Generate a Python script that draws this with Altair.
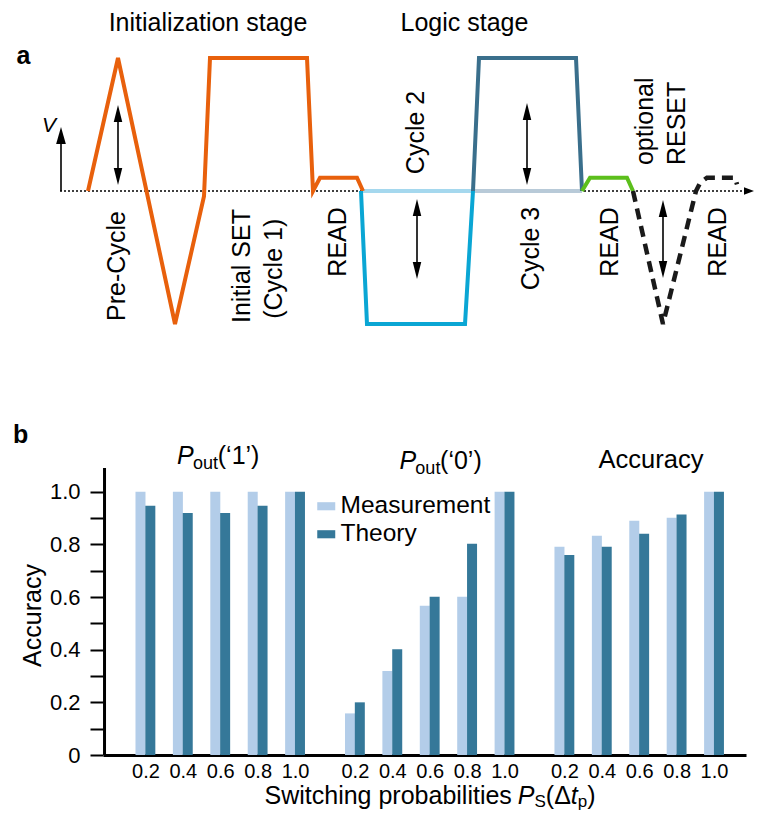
import json
import altair as alt
import pandas as pd

# ---------------- Panel b data ----------------
ps_labels = ["0.2", "0.4", "0.6", "0.8", "1.0"]
series_names = ["Measurement", "Theory"]
series_colors = ["#b3cde9", "#357899"]

meas_p1 = [1.0, 1.0, 1.0, 1.0, 1.0]
theory_p1 = [0.947, 0.919, 0.919, 0.947, 1.0]
meas_p0 = [0.158, 0.319, 0.567, 0.601, 1.0]
theory_p0 = [0.200, 0.402, 0.601, 0.802, 1.0]
meas_acc = [0.791, 0.833, 0.890, 0.901, 1.0]
theory_acc = [0.760, 0.791, 0.840, 0.913, 1.0]

# ---------------- Panel a data (time t, voltage V; arbitrary units) ----------------
orange_t = [2.8, 5.8, 11.5, 14.4, 15.0, 24.7, 25.3, 26.0, 29.7, 30.3]
orange_v = [0.0, 1.0, -1.0, -0.04, 1.0, 1.0, 0.0, 0.1, 0.1, 0.0]
cyan_t = [30.1, 30.7, 40.5, 41.3]
cyan_v = [0.0, -1.0, -1.0, 0.0]
cyan_base_t = [30.1, 41.3]
cyan_base_v = [0.0, 0.0]
teal_t = [41.3, 41.9, 51.6, 52.2]
teal_v = [0.0, 1.0, 1.0, 0.0]
grey_base_t = [41.3, 52.2]
grey_base_v = [0.0, 0.0]
green_t = [52.2, 53.0, 56.7, 57.3]
green_v = [0.0, 0.1, 0.1, 0.0]
reset_t = [57.3, 60.3, 63.6, 64.0, 64.7, 67.5, 67.7]
reset_v = [0.0, -1.0, 0.0, 0.06, 0.1, 0.1, 0.05]
axis_t = [0.0, 68.6]
axis_v = [0.0, 0.0]

# double arrows: (t, V top, V bottom)
darrow_t = [5.8, 35.7, 46.7, 60.3]
darrow_top = [0.647, -0.06, 0.662, -0.068]
darrow_bot = [0.045, -0.662, 0.045, -0.654]

rot_labels = ["Pre-Cycle", "Initial SET", "(Cycle 1)", "READ", "Cycle 2", "Cycle 3", "READ", "READ"]
rot_t = [5.7, 18.2, 21.4, 27.75, 35.6, 47.1, 55.0, 65.8]
rot_v = [-0.564, -0.564, -0.585, -0.383, 0.44, -0.432, -0.383, -0.383]
reset_labels = ["optional", "RESET"]
reset_lab_t = [58.5, 61.7]
reset_lab_v = [0.195, 0.195]
stage_labels = ["Initialization stage", "Logic stage"]
stage_t = [14.8, 40.45]
stage_v = [1.203, 1.203]

FONT = "Liberation Sans"
XA = [4.3, 68.6]
YA = [-4.2406, 1.3759]
XB = [-1.0, 15.9211]
YB = [0.0, 2.8371]
GROUP_STEP = 5.6
HALF_BAR = 5.0 / 38.0
HEAD = 0.064


def xa(f):
    return alt.X(f"{f}:Q", scale=alt.Scale(domain=XA, nice=False, zero=False), axis=None)


def ya(f):
    return alt.Y(f"{f}:Q", scale=alt.Scale(domain=YA, nice=False, zero=False), axis=None)


def xb(f):
    return alt.X(f"{f}:Q", scale=alt.Scale(domain=XB, nice=False, zero=False), axis=None)


def yb(f):
    return alt.Y(f"{f}:Q", scale=alt.Scale(domain=YB, nice=False, zero=False), axis=None)


layers = []


def wave(ts, vs, color, width=4.0, dash=None):
    df = pd.DataFrame({"t": ts, "v": vs, "o": list(range(len(ts)))})
    kw = dict(color=color, strokeWidth=width, clip=False)
    if dash:
        kw["strokeDash"] = dash
    return alt.Chart(df).mark_line(**kw).encode(x=xa("t"), y=ya("v"), order="o:Q")


layers.append(wave(axis_t, axis_v, "black", 1.3, [2, 2]))
layers.append(wave(cyan_base_t, cyan_base_v, "#a5d8ee"))
layers.append(wave(grey_base_t, grey_base_v, "#b8cad8"))
layers.append(wave(orange_t, orange_v, "#e8600c"))
layers.append(wave(cyan_t, cyan_v, "#0aa6d4"))
layers.append(wave(teal_t, teal_v, "#3a6f8c"))
layers.append(wave(green_t, green_v, "#5cbf1c"))
layers.append(wave(reset_t, reset_v, "#1a1a1a", 4.5, [11, 7]))

# time axis arrowhead
layers.append(
    alt.Chart(pd.DataFrame({"t": [axis_t[-1] + 0.3], "v": [0.0]}))
    .mark_point(shape="M1,0L-1,-0.75L-1,0.75Z", size=100, filled=True, color="black", opacity=1, strokeWidth=0)
    .encode(x=xa("t"), y=ya("v"))
)
# V axis arrow
layers.append(
    alt.Chart(pd.DataFrame({"t": [0.1], "v": [0.0], "v2": [0.45]}))
    .mark_rule(color="black", strokeWidth=1.6)
    .encode(x=xa("t"), y=ya("v"), y2="v2:Q")
)
layers.append(
    alt.Chart(pd.DataFrame({"t": [0.1], "v": [0.417]}))
    .mark_point(shape="M0,-1L-0.57,1L0.57,1Z", size=289, filled=True, color="black", opacity=1, strokeWidth=0)
    .encode(x=xa("t"), y=ya("v"))
)
layers.append(
    alt.Chart(pd.DataFrame({"t": [-1.1], "v": [0.49], "s": ["V"]}))
    .mark_text(font=FONT, fontSize=21, fontStyle="italic", align="center", baseline="middle", color="black")
    .encode(x=xa("t"), y=ya("v"), text="s:N")
)

# double arrows
da = pd.DataFrame({"t": darrow_t, "top": darrow_top, "bot": darrow_bot})
da["top_head"] = da["top"] - HEAD
da["bot_head"] = da["bot"] + HEAD
layers.append(
    alt.Chart(da).mark_rule(color="black", strokeWidth=1.6).encode(x=xa("t"), y=ya("top_head"), y2="bot_head:Q")
)
layers.append(
    alt.Chart(da)
    .mark_point(shape="M0,-1L-0.5,1L0.5,1Z", size=289, filled=True, color="black", opacity=1, strokeWidth=0)
    .encode(x=xa("t"), y=ya("top_head"))
)
layers.append(
    alt.Chart(da)
    .mark_point(shape="M0,1L-0.5,-1L0.5,-1Z", size=289, filled=True, color="black", opacity=1, strokeWidth=0)
    .encode(x=xa("t"), y=ya("bot_head"))
)

# rotated labels
layers.append(
    alt.Chart(pd.DataFrame({"s": rot_labels, "t": rot_t, "v": rot_v}))
    .mark_text(font=FONT, fontSize=25, angle=270, align="center", baseline="middle", color="black")
    .encode(x=xa("t"), y=ya("v"), text="s:N")
)
layers.append(
    alt.Chart(pd.DataFrame({"s": reset_labels, "t": reset_lab_t, "v": reset_lab_v}))
    .mark_text(font=FONT, fontSize=25, angle=270, align="left", baseline="middle", color="black")
    .encode(x=xa("t"), y=ya("v"), text="s:N")
)
layers.append(
    alt.Chart(pd.DataFrame({"s": stage_labels, "t": stage_t, "v": stage_v}))
    .mark_text(font=FONT, fontSize=25, align="center", baseline="alphabetic", color="black")
    .encode(x=xa("t"), y=ya("v"), text="s:N")
)
layers.append(
    alt.Chart(pd.DataFrame({"s": ["a"], "t": [-3.65], "v": [1.015]}))
    .mark_text(font=FONT, fontSize=25, fontWeight="bold", align="center", baseline="middle", color="black")
    .encode(x=xa("t"), y=ya("v"), text="s:N")
)

# ---------------- Panel b ----------------
groups = [(meas_p1, theory_p1), (meas_p0, theory_p0), (meas_acc, theory_acc)]
rows = []
for g, (m, th) in enumerate(groups):
    for i in range(len(ps_labels)):
        rows.append({"series": "Measurement", "slot": g * GROUP_STEP + i, "val": m[i], "k": 0})
        rows.append({"series": "Theory", "slot": g * GROUP_STEP + i, "val": th[i], "k": 1})
bars = pd.DataFrame(rows)
bars["pos"] = bars["slot"] + (bars["k"] * 2 - 1) * HALF_BAR
slot_values = sorted(set(bars["slot"].round(4).tolist()))

x_label_expr = (
    f"{json.dumps(ps_labels)}[round(datum.value - floor((datum.value + 0.5) / {GROUP_STEP}) * {GROUP_STEP})]"
)

bar_layer = (
    alt.Chart(bars)
    .mark_bar(size=10)
    .encode(
        x=alt.X(
            "pos:Q",
            scale=alt.Scale(domain=XB, nice=False, zero=False),
            axis=alt.Axis(
                orient="bottom",
                values=slot_values,
                labelExpr=x_label_expr,
                ticks=False,
                grid=False,
                domainWidth=3,
                domainColor="black",
                labelFont=FONT,
                labelFontSize=20,
                labelColor="black",
                labelPadding=6,
                title=None,
            ),
        ),
        y=alt.Y(
            "val:Q",
            scale=alt.Scale(domain=YB, nice=False, zero=False),
            axis=alt.Axis(
                orient="left",
                values=[round(k * 0.1, 1) for k in range(11)],
                labelExpr="datum.value == 0 ? '0' : (round(datum.value * 10) % 2 == 0 ? format(datum.value, '.1f') : '')",
                domain=False,
                grid=False,
                tickSize=13,
                tickWidth=2,
                tickColor="black",
                labelFont=FONT,
                labelFontSize=22,
                labelColor="black",
                labelPadding=10,
                title="Accuracy",
                titleFont=FONT,
                titleFontSize=25,
                titleFontWeight="normal",
                titleColor="black",
                titleAngle=270,
                titleAlign="center",
                titleBaseline="middle",
                titleX=-71,
                titleY=607,
            ),
        ),
        color=alt.Color(
            "series:N",
            scale=alt.Scale(domain=series_names, range=series_colors),
            legend=alt.Legend(
                orient="none",
                legendX=211,
                legendY=486,
                title=None,
                padding=0,
                labelFont=FONT,
                labelFontSize=24.5,
                labelColor="black",
                labelOffset=2,
                rowPadding=3,
                symbolType="M-1,-0.45H1V0.45H-1Z",
                symbolSize=324,
                symbolStrokeWidth=0,
                symbolOpacity=1,
            ),
        ),
    )
)
layers.append(bar_layer)

# y axis line (stops at top of the value range)
layers.append(
    alt.Chart(pd.DataFrame({"p": [-0.96], "v": [0.0], "v2": [1.09]}))
    .mark_rule(color="black", strokeWidth=3)
    .encode(x=xb("p"), y=yb("v"), y2="v2:Q")
)

# panel b subtitles
sub_P = pd.DataFrame({"s": ["P", "P"], "p": [0.95, 6.8], "v": [1.105, 1.087]})
sub_out = pd.DataFrame({"s": ["out", "out"], "p": [1.37, 7.22], "v": [1.087, 1.068]})
sub_rest = pd.DataFrame({"s": ["(\u20181\u2019)", "(\u20180\u2019)"], "p": [2.02, 7.87], "v": [1.105, 1.087]})
sub_acc = pd.DataFrame({"s": ["Accuracy"], "p": [13.42], "v": [1.091]})
layers.append(
    alt.Chart(sub_P).mark_text(font=FONT, fontSize=25, fontStyle="italic", align="left", baseline="alphabetic", color="black")
    .encode(x=xb("p"), y=yb("v"), text="s:N")
)
layers.append(
    alt.Chart(sub_out).mark_text(font=FONT, fontSize=18, align="left", baseline="alphabetic", color="black")
    .encode(x=xb("p"), y=yb("v"), text="s:N")
)
layers.append(
    alt.Chart(sub_rest).mark_text(font=FONT, fontSize=25, align="left", baseline="alphabetic", color="black")
    .encode(x=xb("p"), y=yb("v"), text="s:N")
)
layers.append(
    alt.Chart(sub_acc).mark_text(font=FONT, fontSize=25.5, align="center", baseline="alphabetic", color="black")
    .encode(x=xb("p"), y=yb("v"), text="s:N")
)
layers.append(
    alt.Chart(pd.DataFrame({"s": ["b"], "p": [-3.17], "v": [1.215]}))
    .mark_text(font=FONT, fontSize=25, fontWeight="bold", align="center", baseline="middle", color="black")
    .encode(x=xb("p"), y=yb("v"), text="s:N")
)

# x-axis title built from pieces (regular / italic / subscript)
XT_V = -0.1861
XT_SUB_V = -0.1975
xt_main = pd.DataFrame({"s": ["Switching probabilities", "(\u0394", ")"], "p": [3.25, 10.653, 11.745], "v": [XT_V] * 3})
xt_ital = pd.DataFrame({"s": ["P", "t"], "p": [9.916, 11.311], "v": [XT_V] * 2})
xt_sub = pd.DataFrame({"s": ["S", "p"], "p": [10.355, 11.495], "v": [XT_SUB_V] * 2})
layers.append(
    alt.Chart(xt_main).mark_text(font=FONT, fontSize=25, align="left", baseline="alphabetic", color="black")
    .encode(x=xb("p"), y=yb("v"), text="s:N")
)
layers.append(
    alt.Chart(xt_ital).mark_text(font=FONT, fontSize=25, fontStyle="italic", align="left", baseline="alphabetic", color="black")
    .encode(x=xb("p"), y=yb("v"), text="s:N")
)
layers.append(
    alt.Chart(xt_sub).mark_text(font=FONT, fontSize=17, align="left", baseline="alphabetic", color="black")
    .encode(x=xb("p"), y=yb("v"), text="s:N")
)

chart = (
    alt.layer(*layers)
    .resolve_scale(x="independent", y="independent")
    .properties(
        width=643,
        height=747,
        autosize=alt.AutoSizeParams(type="none"),
        padding={"left": 95, "top": 0, "right": 9, "bottom": 58},
        background="white",
    )
    .configure(font=FONT, view=alt.ViewConfig(stroke=None))
)

chart.save("out.html", embed_options={"renderer": "svg", "actions": False})
